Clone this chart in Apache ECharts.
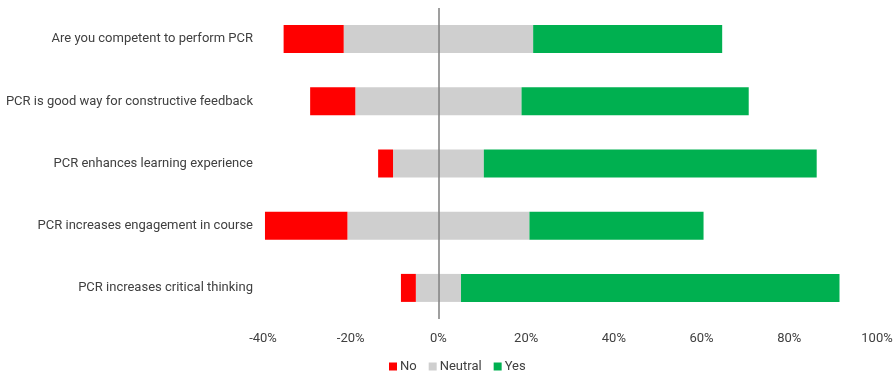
<!DOCTYPE html>
<html><head><meta charset="utf-8">
<script src="https://cdn.jsdelivr.net/npm/echarts@6/dist/echarts.min.js"></script>
<style>html,body{margin:0;padding:0;background:#fff}#c{width:895px;height:371px}</style>
</head><body><div id="c"></div>
<script>
const categories = [
  "Are you competent to perform PCR",
  "PCR is good way for constructive feedback",
  "PCR enhances learning experience",
  "PCR increases engagement in course",
  "PCR increases critical thinking"
];
const noValues = [13.7, 10.3, 3.4, 18.8, 3.4];
const neutralValues = [43.2, 37.9, 20.7, 41.5, 10.3];
const yesValues = [43.1, 51.8, 75.9, 39.7, 86.3];
const xTicks = [-40, -20, 0, 20, 40, 60, 80, 100];

const font = "Roboto";
const chart = echarts.init(document.getElementById('c'));
const half = neutralValues.map(v => v / 2);
chart.setOption({
  animation: false,
  textStyle: {fontFamily: font},
  grid: {left: 263, right: 18, top: 8, bottom: 52, outerBoundsMode: 'none', containLabel: false},
  legend: {
    data: ['No', 'Neutral', 'Yes'],
    top: 355, left: 384,
    itemWidth: 8, itemHeight: 8, itemGap: 12,
    icon: 'rect',
    textStyle: {fontFamily: font, fontSize: 13, color: '#404040', padding: [0, 0, 0, -2]}
  },
  xAxis: {
    type: 'value', min: xTicks[0], max: xTicks[xTicks.length - 1], interval: 20,
    splitLine: {show: false}, axisLine: {show: false}, axisTick: {show: false},
    axisLabel: {formatter: v => v + '%', fontSize: 13, color: '#404040', margin: 13, fontFamily: font}
  },
  yAxis: {
    type: 'category', data: categories, inverse: true,
    axisLine: {show: false, onZero: false}, axisTick: {show: false},
    axisLabel: {fontSize: 13, color: '#404040', margin: 10, fontFamily: font}
  },
  series: [
    {name: 'Neutral', type: 'bar', stack: 's', barWidth: 28, data: half.map(v => -v),
     itemStyle: {color: '#CFCFCF'},
     markLine: {silent: true, symbol: 'none', label: {show: false},
       lineStyle: {color: '#7f7f7f', width: 1.5, type: 'solid'}, data: [{xAxis: 0}]}},
    {name: 'No', type: 'bar', stack: 's', barWidth: 28, data: noValues.map(v => -v),
     itemStyle: {color: '#FF0000'}},
    {name: 'Neutral', type: 'bar', stack: 's', barWidth: 28, data: half,
     itemStyle: {color: '#CFCFCF'}},
    {name: 'Yes', type: 'bar', stack: 's', barWidth: 28, data: yesValues,
     itemStyle: {color: '#00B050'}}
  ]
});
</script></body></html>
